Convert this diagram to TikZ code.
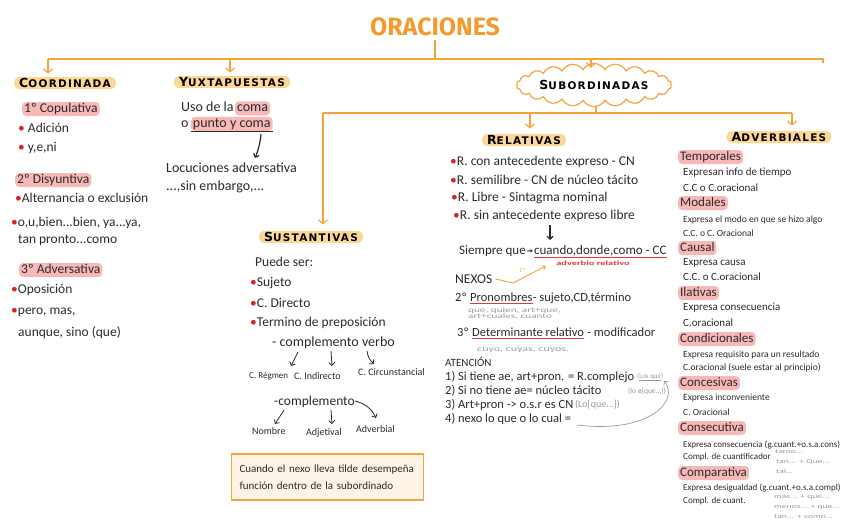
\documentclass[tikz,border=0pt]{standalone}
\usepackage{fontspec}
\setmainfont{Carlito}
\newfontfamily\hdfont{DejaVu Sans}[LetterSpace=12]
\newfontfamily\titlefont{Fira Sans}
\newfontfamily\widefont{Carlito}[FakeStretch=1.6]
\usetikzlibrary{arrows.meta,shapes.symbols}
\definecolor{orange1}{HTML}{F5A33C}
\definecolor{orangeT}{HTML}{F39A2E}
\definecolor{pillyel}{HTML}{FDD797}
\definecolor{pinkhl}{HTML}{F9B8B8}
\definecolor{bulred}{HTML}{D7262B}
\definecolor{ulred}{HTML}{E23A3A}
\definecolor{boxfill}{HTML}{FDF4E7}
\definecolor{grayt}{HTML}{9A9A9A}
\definecolor{ink}{HTML}{2A2A2A}
\newcommand\hd[2]{{\hdfont\bfseries\fontsize{12.5}{12}\selectfont #1\fontsize{10.5}{12}\selectfont #2}}
\newcommand\bul{{\color{bulred}\textbullet}}
\begin{document}
\begin{tikzpicture}[x=1pt,y=-1pt,
  txt/.style={anchor=west, inner sep=0pt, text=ink, font=\fontsize{13.5}{15}\selectfont},
  yx/.style={txt, font=\fontsize{14}{16}\selectfont},
  rl/.style={txt, font=\fontsize{12.5}{14}\selectfont},
  sm/.style={txt, font=\fontsize{10}{11}\selectfont},
  av/.style={txt, font=\fontsize{11}{12}\selectfont},
  avs/.style={txt, font=\fontsize{9.5}{11}\selectfont},
  avx/.style={txt, font=\fontsize{9}{10}\selectfont},
  tiny/.style={txt, text=grayt, font=\widefont\fontsize{7}{7}\selectfont},
  hl/.style={fill=pinkhl, rounded corners=4pt, inner xsep=2pt, inner ysep=1pt, text height=9.5pt, text depth=2.5pt},
  avh/.style={txt, hl, font=\fontsize{13}{14}\selectfont},
  pill/.style={fill=pillyel, rounded corners=5pt, inner xsep=5pt, inner ysep=1.5pt, text=black},
  oline/.style={draw=orange1, line width=1.2pt},
  oarr/.style={oline, -{Straight Barb[length=4pt,width=9pt]}},
  karr/.style={draw=ink, line width=0.8pt, -{Straight Barb[length=3pt,width=6pt]}},
  garr/.style={draw=grayt, line width=0.7pt, -{Straight Barb[length=3pt,width=6pt]}},
  redul/.style={draw=ulred, line width=0.8pt}]
\useasboundingbox (0,0) rectangle (848,530);

% ---------- title and main tree ----------
\node[font=\titlefont\bfseries\fontsize{25}{25}\selectfont, text=orangeT, inner sep=0pt] (T) at (435,27) {ORACIONES};
\coordinate (h0) at (435,59);
\coordinate (hL) at (48,59);
\coordinate (hY) at (230,59);
\coordinate (hS) at (591,59);
\coordinate (hR) at (823,59);
\draw[oline] ([yshift=-4pt]T.south) -- (h0);
\draw[oline] (hL) -- (hR) -- ++(0,4);

\node[pill] (co) at (65,83) {\hd{C}{OORDINADA}};
\node[pill] (yu) at (232,82) {\hd{Y}{UXTAPUESTAS}};
\node[cloud, draw=orange1, line width=1.2pt, fill=white, cloud puffs=22, cloud puff arc=120, aspect=5,
      minimum width=140pt, minimum height=32pt, inner sep=0pt] (sub) at (594,85) {\hd{S}{UBORDINADAS}};
\draw[oarr, shorten >=-5pt] (hS) -- (hS |- sub.north);

\coordinate (s0) at (596,113);
\coordinate (sL) at (323,113);
\coordinate (sRel) at (530,113);
\coordinate (sR) at (792,113);
\draw[oline] (s0 |- sub.south) -- (s0);
\draw[oline] (sL) -- (sR);
\node[pill] (rel) at (524,140) {\hd{R}{ELATIVAS}};
\node[pill] (adv) at (779,137) {\hd{A}{DVERBIALES}};
\node[pill] (sus) at (311,237) {\hd{S}{USTANTIVAS}};
\draw[oarr, shorten >=3pt] (hL) -- (hL |- co.north);
\draw[oarr, shorten >=3pt] (hY) -- (hY |- yu.north);
\draw[oarr, shorten >=5pt] (sRel) -- (sRel |- rel.north);
\draw[oarr, shorten >=5pt] (sR) -- (sR |- adv.north);
\draw[oarr, shorten >=6pt] (sL) -- (sL |- sus.north);

% ---------- coordinada ----------
\node[txt,hl] (c1) at (22,109) {1º Copulativa};
\node[txt] (c2) at (18,128) {\bul\ Adición};
\node[txt] (c3) at (18,148) {\bul\ y,e,ni};
\node[txt,hl] (c4) at (15,180) {2º Disyuntiva};
\node[txt] (c5) at (15,198) {\bul Alternancia o exclusión};
\node[txt] (c6) at (11,223) {\bul o,u,bien...bien, ya...ya,};
\node[txt] (c7) at (18,240) {tan pronto...como};
\node[txt,hl] (c8) at (19,270) {3º Adversativa};
\node[txt] (c9) at (11,290) {\bul Oposición};
\node[txt] (c10) at (11,312) {\bul pero, mas,};
\node[txt] (c11) at (18,333) {aunque, sino (que)};

% ---------- yuxtapuestas ----------
\node[yx] (y1) at (181,107) {Uso de la};
\node[yx,hl,anchor=base west] (y1h) at ([xshift=1pt]y1.base east) {coma};
\node[yx] (y2) at (181,124) {o};
\node[yx,hl,anchor=base west] (y2h) at ([xshift=2pt]y2.base east) {punto y coma};
\draw[draw=ink, line width=1pt] ([yshift=-0.5pt]y2h.south west) -- ([yshift=-0.5pt]y2h.south east);
\node[yx] (y3) at (166,168) {Locuciones adversativa};
\node[yx] (y4) at (166,187) {...,sin embargo,...};
\coordinate (ya) at (261,134);
\coordinate (yb) at (255,158);
\draw[karr, line width=1.2pt] (ya) to[bend left=8] (yb);

% ---------- sustantivas ----------
\node[txt] (s1) at (255,262) {Puede ser:};
\node[txt] (s2) at (250,283) {\bul Sujeto};
\node[txt] (s3) at (250,303) {\bul C. Directo};
\node[txt] (s4) at (250,323) {\bul Termino de preposición};
\node[txt, font=\fontsize{14}{16}\selectfont] (s5) at (272,343) {- complemento verbo};
\node[sm, font=\fontsize{9}{11}\selectfont] (s6) at (249,376) {C. Régmen};
\node[sm] (s7) at (294,376) {C. Indirecto};
\node[sm] (s8) at (358,372) {C. Circunstancial};
\node[txt] (s9) at (274,402) {-complemento};
\node[sm] (s10) at (252,431) {Nombre};
\node[sm] (s11) at (306,433) {Adjetival};
\node[sm] (s12) at (356,429) {Adverbial};
\coordinate (sa1) at (298,352); \coordinate (sb1) at (291,366);
\coordinate (sa2) at (331,351); \coordinate (sb2) at (332,366);
\coordinate (sa3) at (367,351); \coordinate (sb3) at (374,364);
\coordinate (sa4) at (284,410); \coordinate (sb4) at (275,424);
\coordinate (sa5) at (331,410); \coordinate (sb5) at (332,424);
\coordinate (sa6) at (355,401); \coordinate (sb6) at (376,418);
\draw[karr] (sa1) -- (sb1);
\draw[karr] (sa2) -- (sb2);
\draw[karr] (sa3) to[bend right=20] (sb3);
\draw[karr] (sa4) -- (sb4);
\draw[karr] (sa5) -- (sb5);
\draw[karr] (sa6) to[bend left=25] (sb6);

\node[draw=orange1, line width=1.2pt, fill=boxfill, text width=176pt, minimum height=46pt,
      inner xsep=8pt, align=left, text=ink, font=\fontsize{11}{17}\selectfont] (bx) at (327.5,477)
      {Cuando el nexo lleva tilde desempeña\\función dentro de la subordinado};

% ---------- relativas ----------
\node[txt] (r1) at (450,162) {\bul R. con antecedente expreso - CN};
\node[txt] (r2) at (450,180) {\bul R. semilibre - CN de núcleo tácito};
\node[txt] (r3) at (451,198) {\bul R. Libre - Sintagma nominal};
\node[txt] (r4) at (453,216) {\bul R. sin antecedente expreso libre};
\coordinate (ra) at (550,225); \coordinate (rb) at (550,240);
\draw[karr, line width=1.1pt] (ra) -- (rb);
\node[txt, font=\fontsize{13}{14}\selectfont] (q1) at (459,251) {Siempre que};
\node[txt, font=\fontsize{13}{14}\selectfont, anchor=base west] (q2) at ([xshift=8pt]q1.base east) {cuando,donde,como - CC};
\draw[karr, line width=0.9pt, -{Stealth[length=3pt,width=3pt]}] ([xshift=1pt]q1.east) -- ([xshift=-1pt]q2.west);
\draw[redul] ([yshift=-2.5pt]q2.base west) -- ([yshift=-2.5pt]q2.base east);
\node[inner sep=0pt, text=ulred, font=\widefont\bfseries\fontsize{6.5}{7}\selectfont] (advr) at (593,263) {adverbio relativo};
\node[txt] (nx) at (455,279) {NEXOS};
\coordinate (nm) at (513,283);
\coordinate (nt) at (546,266);
\draw[draw=orange1, line width=0.9pt, -{Straight Barb[length=3pt,width=5pt]}] ([xshift=3pt]nx.east) -- (nm) -- (nt);
\node[inner sep=0pt, text=orange1, font=\fontsize{6}{6}\selectfont] (n1) at (522,270) {1º};

\node[rl] (p2a) at (455,297) {2º};
\node[rl,anchor=base west] (p2b) at ([xshift=3pt]p2a.base east) {Pronombres};
\node[rl,anchor=base west] (p2c) at (p2b.base east) {- sujeto,CD,término};
\draw[redul] ([yshift=-2.5pt]p2b.base west) -- ([yshift=-2.5pt]p2b.base east);
\node[tiny] (p2d) at (468,311) {que, quien, art+que,};
\node[tiny] (p2e) at (468,317) {art+cuales, cuanto};
\node[rl] (p3a) at (457,332) {3º};
\node[rl,anchor=base west] (p3b) at ([xshift=3pt]p3a.base east) {Determinante relativo};
\node[rl,anchor=base west] (p3c) at ([xshift=3pt]p3b.base east) {- modificador};
\draw[redul] ([yshift=-2.5pt]p3b.base west) -- ([yshift=-2.5pt]p3b.base east);
\node[tiny, font=\widefont\fontsize{7.5}{8}\selectfont] (p3d) at (477,350) {cuyo, cuyas, cuyos.};

\node[txt, font=\fontsize{11}{12}\selectfont] (at0) at (445,362) {ATENCIÓN};
\node[rl] (at1) at (445,377) {1) Si tiene ae, art+pron. = R.complejo};
\node[rl] (at2) at (445,391) {2) Si no tiene ae= núcleo tácito};
\node[rl] (at3) at (445,405) {3) Art+pron -> o.s.r es CN};
\node[rl] (at4) at (445,419) {4) nexo lo que o lo cual =};
\node[txt, text=grayt, font=\fontsize{7}{9}\selectfont] (g1) at (637,377) {(\underline{Los que})};
\node[txt, text=grayt, font=\fontsize{7.5}{9}\selectfont] (g2) at (628,391) {(lo ø[que...])};
\node[txt, text=grayt, font=\fontsize{10}{11}\selectfont] (g3) at (575,405) {(Lo[que...])};
\coordinate (ga) at (577,425);
\coordinate (gb) at (664,381);
\draw[garr] (ga) .. controls (650,434) and (680,400) .. (gb);

% ---------- adverbiales ----------
\node[avh] (v1) at (678,157) {Temporales};
\node[av] (v1a) at (683,173) {Expresan info de tiempo};
\node[av] (v1b) at (683,188) {C.C o C.oracional};
\node[avh] (v2) at (678,203) {Modales};
\node[avs] (v2a) at (683,220) {Expresa el modo en que se hizo algo};
\node[avs] (v2b) at (683,233) {C.C. o C. Oracional};
\node[avh] (v3) at (678,248) {Causal};
\node[av] (v3a) at (683,263) {Expresa causa};
\node[av] (v3b) at (683,277) {C.C. o C.oracional};
\node[avh] (v4) at (678,293) {Ilativas};
\node[av] (v4a) at (683,308) {Expresa consecuencia};
\node[av] (v4b) at (683,323) {C.oracional};
\node[avh] (v5) at (678,339) {Condicionales};
\node[avs] (v5a) at (683,355) {Expresa requisito para un resultado};
\node[avs] (v5b) at (683,368) {C.oracional (suele estar al principio)};
\node[avh] (v6) at (678,383) {Concesivas};
\node[avs] (v6a) at (683,398) {Expresa inconveniente};
\node[avs] (v6b) at (683,412) {C. Oracional};
\node[avh] (v7) at (678,428) {Consecutiva};
\node[avx] (v7a) at (683,445) {Expresa consecuencia (g.cuant.+o.s.a.cons)};
\node[avx] (v7b) at (683,457) {Compl. de cuantificador};
\node[tiny, font=\widefont\fontsize{6}{6}\selectfont] (v7c) at (775,452) {tanto...};
\node[tiny, font=\widefont\fontsize{6}{6}\selectfont] (v7d) at (776,462) {tan... + Que...};
\node[tiny, font=\widefont\fontsize{6}{6}\selectfont] (v7e) at (776,471) {tal...};
\node[avh] (v8) at (678,473) {Comparativa};
\node[avx] (v8a) at (683,488) {Expresa desigualdad (g.cuant.+o.s.a.compl)};
\node[avx] (v8b) at (683,501) {Compl. de cuant.};
\node[tiny, font=\widefont\fontsize{6}{6}\selectfont] (v8c) at (774,497) {más... + que...};
\node[tiny, font=\widefont\fontsize{6}{6}\selectfont] (v8d) at (774,507) {menos... + que...};
\node[tiny, font=\widefont\fontsize{6}{6}\selectfont] (v8e) at (774,517) {tan... + como...};
\end{tikzpicture}
\end{document}
